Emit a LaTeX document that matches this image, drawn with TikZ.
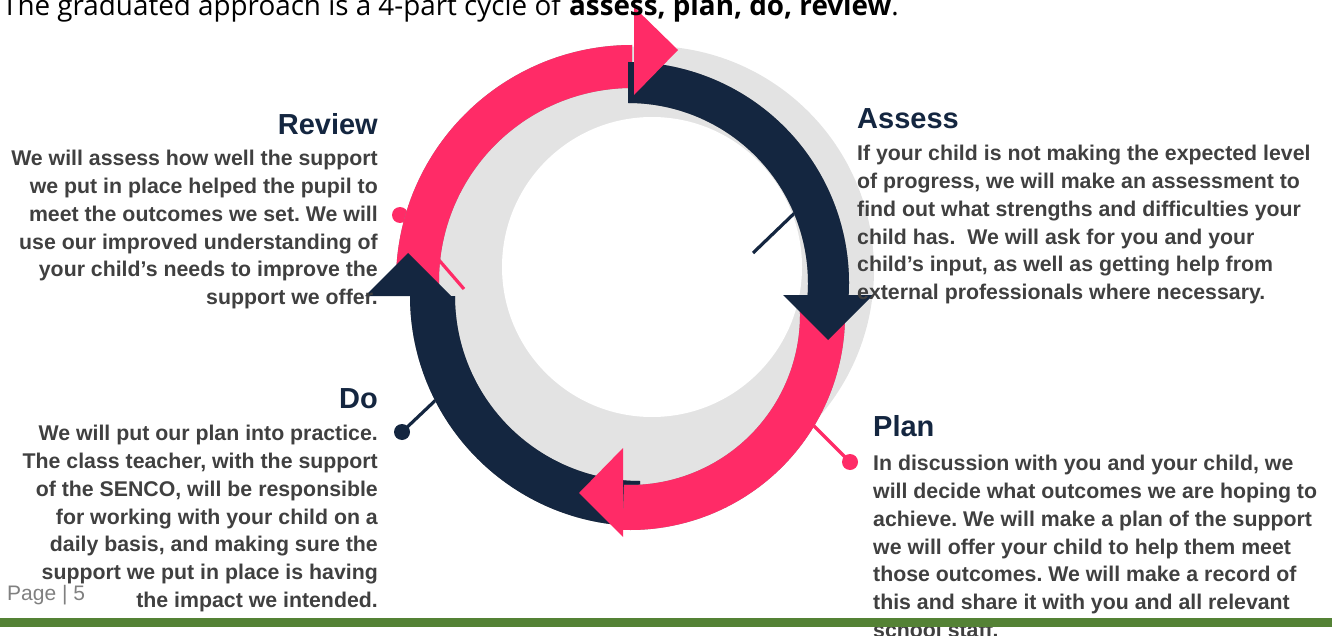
\documentclass[tikz,border=0pt]{standalone}
\usepackage{fontspec}
\setmainfont{Liberation Sans}
\newfontfamily\titlefont{Open Sans}
\usepackage{tikz}
\usetikzlibrary{positioning,calc}
\definecolor{cyclepink}{RGB}{255,43,103}
\definecolor{cyclenavy}{RGB}{20,38,64}
\definecolor{ringgray}{RGB}{227,227,227}
\definecolor{bodygray}{RGB}{64,64,64}
\definecolor{pagegray}{RGB}{128,128,128}
\definecolor{bargreen}{RGB}{84,130,53}
\tikzstyle{heading} = [inner sep=0pt, text=cyclenavy, font=\bfseries\fontsize{29}{34}\selectfont]
\tikzstyle{body} = [inner sep=0pt, text=bodygray, font=\bfseries\fontsize{21.3}{27.8}\selectfont]
\tikzstyle{dot} = [circle, inner sep=0pt, minimum size=16pt]
\tikzstyle{leader} = [line width=3.2pt]
\tikzstyle{shade} = [fill=black!45, shift={(1.5,1.8)}]
\frenchspacing

\begin{document}
\begin{tikzpicture}[x=1pt, y=1pt, yscale=-1]
        \useasboundingbox (0,0) rectangle (1332,636);
        % Ring ------------------------------------------------------------------------------------
        \fill[ringgray] (650,270) circle[radius=224];
        \fill[white] (652,267) circle[radius=150];
        \coordinate (review_c) at (632,281);
        \coordinate (assess_c) at (628,283);
        \coordinate (plan_c) at (630,315);
        \coordinate (do_c) at (640,296);
        % Leaders (under the arcs)
        \node[dot, fill=cyclepink] (review_dot) at (400,215) {};
        \coordinate (review_end) at (464,289);
        \draw[leader, cyclepink] (review_dot.center) -- (review_end);
        \coordinate (assess_start) at (753,253);
        \coordinate (assess_end) at (805,203);
        \draw[leader, cyclenavy] (assess_start) -- (assess_end);
        \node[dot, fill=cyclepink] (plan_dot) at (850,462) {};
        \coordinate (plan_end) at (808,420);
        \draw[leader, cyclepink] (plan_dot.center) -- (plan_end);
        \node[dot, fill=cyclenavy] (do_dot) at (402,432) {};
        \coordinate (do_end) at (440,396);
        \draw[leader, cyclenavy] (do_dot.center) -- (do_end);
        % Arcs ------------------------------------------------------------------------------------
        \fill[shade] ($(review_c)+(178:236)$) arc[start angle=178, end angle=270, radius=236] -- ($(review_c)+(270:193)$) arc[start angle=270, end angle=178, radius=193] -- cycle;
        \fill[cyclepink] ($(review_c)+(178:236)$) arc[start angle=178, end angle=270, radius=236] -- ($(review_c)+(270:193)$) arc[start angle=270, end angle=178, radius=193] -- cycle;
        \fill[shade] ($(assess_c)+(270:221)$) arc[start angle=270, end angle=364, radius=221] -- ($(assess_c)+(364:180)$) arc[start angle=364, end angle=270, radius=180] -- cycle;
        \fill[cyclenavy] ($(assess_c)+(270:221)$) arc[start angle=270, end angle=364, radius=221] -- ($(assess_c)+(364:180)$) arc[start angle=364, end angle=270, radius=180] -- cycle;
        \fill[shade] ($(do_c)+(90:230)$) arc[start angle=90, end angle=180, radius=230] -- ($(do_c)+(180:185)$) arc[start angle=180, end angle=90, radius=185] -- cycle;
        \fill[cyclenavy] ($(do_c)+(90:230)$) arc[start angle=90, end angle=180, radius=230] -- ($(do_c)+(180:185)$) arc[start angle=180, end angle=90, radius=185] -- cycle;
        \fill[shade] ($(plan_c)+(-3:215)$) arc[start angle=-3, end angle=92, radius=215] -- ($(plan_c)+(92:170)$) arc[start angle=92, end angle=-3, radius=170] -- cycle;
        \fill[cyclepink] ($(plan_c)+(-3:215)$) arc[start angle=-3, end angle=92, radius=215] -- ($(plan_c)+(92:170)$) arc[start angle=92, end angle=-3, radius=170] -- cycle;
        % Heads
        \fill[cyclepink] (634,7) -- (678,50) -- (634,95) -- cycle;
        \fill[cyclenavy] (783,295) -- (873,295) -- (828,340) -- cycle;
        \fill[cyclepink] (623,448) -- (579,493) -- (623,537) -- cycle;
        \fill[cyclenavy] (365,296) -- (408,253) -- (451,296) -- cycle;
        % Texts -----------------------------------------------------------------------------------
        \node[anchor=base west, inner sep=0pt, font=\titlefont\fontsize{27.8}{32}\selectfont] (title) at (2,16) {The graduated approach is a 4-part cycle of \textbf{assess, plan, do, review}.};
        \node[heading, anchor=north east] (review_title) at (378,113) {Review};
        \node[body, anchor=north east, align=right] (review_text) at (378,150) {We will assess how well the support\\we put in place helped the pupil to\\meet the outcomes we set. We will\\use our improved understanding of\\your child’s needs to improve the\\support we offer.};
        \node[heading, anchor=north west] (assess_title) at (857,108) {Assess};
        \node[body, anchor=north west, align=left] (assess_text) at (857,145) {If your child is not making the expected level\\of progress, we will make an assessment to\\find out what strengths and difficulties your\\child has.\ \ We will ask for you and your\\child’s input, as well as getting help from\\external professionals where necessary.};
        \node[heading, anchor=north east] (do_title) at (378,388) {Do};
        \node[body, anchor=north east, align=right] (do_text) at (378,425) {We will put our plan into practice.\\The class teacher, with the support\\of the SENCO, will be responsible\\for working with your child on a\\daily basis, and making sure the\\support we put in place is having\\the impact we intended.};
        \node[heading, anchor=north west] (plan_title) at (873,415) {Plan};
        \node[body, anchor=north west, align=left] (plan_text) at (873,455) {In discussion with you and your child, we\\will decide what outcomes we are hoping to\\achieve. We will make a plan of the support\\we will offer your child to help them meet\\those outcomes. We will make a record of\\this and share it with you and all relevant\\school staff.};
        \node[anchor=base west, inner sep=0pt, text=pagegray, font=\fontsize{21}{24}\selectfont] (page_no) at (7,600) {Page | 5};
        % Footer bar
        \fill[bargreen] (0,618) rectangle (1332,627);
    \end{tikzpicture}
\end{document}
